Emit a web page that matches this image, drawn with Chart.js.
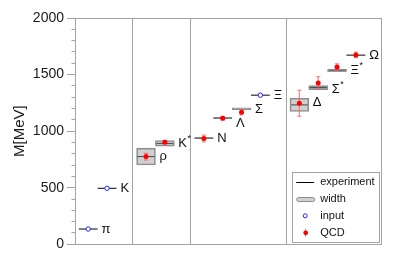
<!DOCTYPE html>
<html>
<head>
<meta charset="utf-8">
<script src="https://cdn.jsdelivr.net/npm/chart.js@4/dist/chart.umd.min.js"></script>
<style>
  html, body { margin: 0; padding: 0; background: #fff; }
  #wrap { width: 400px; height: 264px; }
</style>
</head>
<body>
<div id="wrap"><canvas id="c" width="400" height="264"></canvas></div>
<script>
// Hadron spectrum: experimental masses, resonance widths, lattice QCD results
const particles  = ['π', 'K', 'ρ', 'K*', 'N', 'Λ', 'Σ', 'Ξ', 'Δ', 'Σ*', 'Ξ*', 'Ω'];
const groupSizes = [2, 2, 4, 4];                       // pseudoscalar, vector, octet, decuplet
const expMass    = [135, 495, 775, 892, 939, 1116, 1193, 1318, 1232, 1385, 1533, 1672];
const expWidth   = [null, null, 149, 50, null, null, 8, null, 117, 36, 9, null];
const inputMass  = [135, 495, null, null, null, null, null, 1318, null, null, null, null];
const qcdMass    = [null, null, 775, 903, 935, 1114, 1166, null, 1247, 1425, 1567, 1674];
const qcdErr     = [null, null, 30, 15, 30, 16, 22, null, 115, 56, 28, 24];
const yMax = 2000, yStep = 100, yLabelStep = 500;

const FONT = "'Liberation Sans', Arial, Helvetica, sans-serif";
const FRAME = '#a3a3a3';

// slot positions along the x axis: one unit per particle, gaps between groups
const LEAD = 0.7, TRAIL = 1.37;
const xPos = [], separators = [];
let start = 0;
groupSizes.forEach(n => {
  for (let i = 0; i < n; i++) xPos.push(start + LEAD + i);
  start += LEAD + (n - 1) + TRAIL;
  separators.push(start);
});
const xMax = start;

// experiment: short horizontal segments, broken by nulls
const expLines = [];
particles.forEach((p, i) => {
  expLines.push({x: xPos[i] - 0.5, y: expMass[i]}, {x: xPos[i] + 0.5, y: expMass[i]}, {x: xPos[i] + 0.5, y: null});
});

// widths: floating bars centred on the experimental mass
const widthBars = [];
particles.forEach((p, i) => {
  if (expWidth[i] != null) widthBars.push({x: xPos[i], y: [expMass[i] - expWidth[i] / 2, expMass[i] + expWidth[i] / 2]});
});

// QCD error bars with caps
const CAP = 0.11;
const errLines = [];
particles.forEach((p, i) => {
  if (qcdMass[i] == null) return;
  const lo = qcdMass[i] - qcdErr[i], hi = qcdMass[i] + qcdErr[i], x = xPos[i];
  errLines.push({x, y: lo}, {x, y: hi}, {x, y: null});
  errLines.push({x: x - CAP, y: lo}, {x: x + CAP, y: lo}, {x: x + CAP, y: null});
  errLines.push({x: x - CAP, y: hi}, {x: x + CAP, y: hi}, {x: x + CAP, y: null});
});

const qcdPoints = [], inputPoints = [];
particles.forEach((p, i) => {
  if (qcdMass[i] != null) qcdPoints.push({x: xPos[i], y: qcdMass[i]});
  if (inputMass[i] != null) inputPoints.push({x: xPos[i], y: inputMass[i]});
});

// particle names to the right of each experimental line (a few moved down/up to stay clear of neighbours)
const labelShift = { 'Λ': 5, 'Δ': -2, 'Σ*': 2 };
const particleLabels = {
  id: 'particleLabels',
  afterDatasetsDraw(chart) {
    const {ctx, scales: {x, y}} = chart;
    ctx.save();
    ctx.fillStyle = '#111';
    ctx.textBaseline = 'middle';
    ctx.textAlign = 'left';
    particles.forEach((p, i) => {
      const px = x.getPixelForValue(xPos[i] + 0.5) + 4;
      const py = y.getPixelForValue(expMass[i]) + (labelShift[p] || 0);
      const star = p.endsWith('*');
      const base = star ? p.slice(0, -1) : p;
      ctx.font = '13px ' + FONT;
      ctx.fillText(base, px, py);
      if (star) {
        const w = ctx.measureText(base).width;
        ctx.font = '9px ' + FONT;
        ctx.fillText('*', px + w + 0.5, py - 5);
      }
    });
    ctx.restore();
  }
};

// boxed legend in the lower right corner of the plot
const boxLegend = {
  id: 'boxLegend',
  afterDraw(chart) {
    const {ctx, chartArea: a} = chart;
    const w = 87, h = 70;
    const bx = a.right - 2.5 - w, by = a.bottom - 2 - h;
    ctx.save();
    ctx.fillStyle = '#fff';
    ctx.fillRect(bx, by, w, h);
    ctx.strokeStyle = FRAME;
    ctx.lineWidth = 1;
    ctx.strokeRect(Math.round(bx) + 0.5, Math.round(by) + 0.5, w, h);

    const sx0 = bx + 4, sx1 = bx + 22, tx = bx + 28;
    const rows = ['experiment', 'width', 'input', 'QCD'];
    const cx = (sx0 + sx1) / 2;
    rows.forEach((t, k) => {
      const ry = by + 9.5 + k * 17;
      if (k === 0) {
        ctx.strokeStyle = '#000';
        ctx.beginPath(); ctx.moveTo(sx0, Math.round(ry) + 0.5); ctx.lineTo(sx1, Math.round(ry) + 0.5); ctx.stroke();
      } else if (k === 1) {
        ctx.fillStyle = 'rgba(150,150,150,0.45)';
        ctx.strokeStyle = '#8c8c8c';
        ctx.beginPath();
        ctx.roundRect(sx0 + 0.5, Math.round(ry) - 1.5, sx1 - sx0, 4, 2);
        ctx.fill(); ctx.stroke();
      } else if (k === 2) {
        ctx.strokeStyle = '#2222ff';
        ctx.fillStyle = '#fff';
        ctx.beginPath(); ctx.arc(cx, ry, 2, 0, Math.PI * 2); ctx.fill(); ctx.stroke();
      } else {
        ctx.strokeStyle = 'rgba(255,90,90,0.85)';
        ctx.beginPath(); ctx.moveTo(Math.round(cx) + 0.5, ry - 4); ctx.lineTo(Math.round(cx) + 0.5, ry + 4); ctx.stroke();
        ctx.fillStyle = '#ff0000';
        ctx.beginPath(); ctx.arc(cx + 0.5, ry, 2.4, 0, Math.PI * 2); ctx.fill();
      }
      ctx.fillStyle = '#111';
      ctx.font = '11px ' + FONT;
      ctx.textBaseline = 'middle';
      ctx.textAlign = 'left';
      ctx.fillText(t, tx, ry);
    });
    ctx.restore();
  }
};

new Chart(document.getElementById('c'), {
  type: 'scatter',
  data: {
    datasets: [
      {
        type: 'line', label: 'experiment', data: expLines, order: 4,
        borderColor: '#000', borderWidth: 1, pointRadius: 0, spanGaps: false, fill: false
      },
      {
        type: 'bar', label: 'width', data: widthBars, order: 3,
        backgroundColor: 'rgba(150,150,150,0.45)', borderColor: '#8c8c8c', borderWidth: 1,
        borderSkipped: false, barPercentage: 1, categoryPercentage: 1, grouped: false, minBarLength: 2
      },
      {
        type: 'line', label: 'error', data: errLines, order: 2,
        borderColor: 'rgba(255,90,90,0.85)', borderWidth: 1, pointRadius: 0, spanGaps: false, fill: false
      },
      {
        label: 'QCD', data: qcdPoints, order: 1,
        pointStyle: 'circle', pointRadius: 2.5, pointBackgroundColor: '#ff0000', pointBorderWidth: 0, showLine: false
      },
      {
        label: 'input', data: inputPoints, order: 0,
        pointStyle: 'circle', pointRadius: 2.2, pointBackgroundColor: '#fff', pointBorderColor: '#2222ff', pointBorderWidth: 1, showLine: false
      }
    ]
  },
  options: {
    responsive: false,
    animation: false,
    devicePixelRatio: 1,
    layout: { padding: { left: 0, top: 18, right: 18.3, bottom: 19.7 } },
    plugins: { legend: { display: false }, tooltip: { enabled: false } },
    scales: {
      x: {
        type: 'linear', min: 0, max: xMax, offset: false,
        afterBuildTicks: s => { s.ticks = separators.map(v => ({ value: v })); },
        ticks: { display: false },
        grid: { color: FRAME, drawTicks: false, lineWidth: 1, offset: false },
        border: { color: FRAME },
        afterFit: s => { s.height = 0; }
      },
      y: {
        type: 'linear', min: 0, max: yMax,
        ticks: {
          stepSize: yStep, autoSkip: false, padding: 3, color: '#1a1a1a',
          font: { size: 14, family: FONT },
          callback: v => (v % yLabelStep === 0 ? String(v) : '')
        },
        grid: {
          drawOnChartArea: true,
          offset: false,
          color: c => (c.tick && c.tick.value === yMax ? FRAME : 'rgba(0,0,0,0)'),
          tickColor: FRAME,
          tickLength: 8,
          tickBorderDash: c => (c.tick && c.tick.value % yLabelStep === 0 ? [] : [0, 4.5, 4, 20])
        },
        border: { color: FRAME },
        title: { display: true, text: 'M[MeV]', color: '#1a1a1a', font: { size: 15, family: FONT }, padding: { top: 11, bottom: 0 } },
        afterFit: s => { s.width = 75; }
      }
    }
  },
  plugins: [particleLabels, boxLegend]
});
</script>
</body>
</html>
